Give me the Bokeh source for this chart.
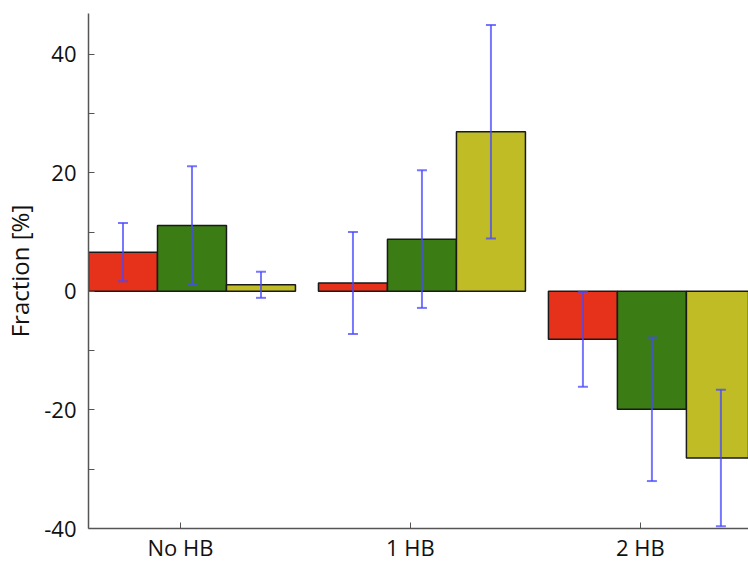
from bokeh.plotting import figure
from bokeh.models import ColumnDataSource, Whisker, TeeHead, FixedTicker, Range1d
from bokeh.embed import file_html
from bokeh.resources import INLINE

categories = ["No HB", "1 HB", "2 HB"]
series_a = [6.6, 1.4, -8.1]
series_a_err = [4.9, 8.6, 8.0]
series_b = [11.1, 8.8, -19.9]
series_b_err = [10.0, 11.6, 12.1]
series_c = [1.1, 26.9, -28.1]
series_c_err = [2.2, 18.0, 11.5]
y_ticks = [-40, -20, 0, 20, 40]
y_minor_ticks = [-30, -10, 10, 30]

colors = ["#e6311b", "#3b7d14", "#c0bc26"]
offsets = [-0.25, 0.05, 0.35]
bar_w = 0.3

p = figure(width=748, height=564, output_backend="svg", toolbar_location=None,
           x_range=Range1d(-0.4, 2.47), y_range=Range1d(-40, 46.85),
           min_border_left=0, min_border_right=0, min_border_top=13, min_border_bottom=0)
p.outline_line_color = None
p.xgrid.visible = False
p.ygrid.visible = False

font = "Open Sans"
for vals, errs, col, off in zip([series_a, series_b, series_c],
                                [series_a_err, series_b_err, series_c_err], colors, offsets):
    xs = [i + off for i in range(len(categories))]
    src = ColumnDataSource(dict(x=xs, top=vals,
                                upper=[v + e for v, e in zip(vals, errs)],
                                lower=[v - e for v, e in zip(vals, errs)]))
    p.vbar(x="x", top="top", bottom=0, width=bar_w, source=src,
           fill_color=col, line_color="#1a1a1a", line_width=1.5)
    w = Whisker(base="x", upper="upper", lower="lower", source=src, level="overlay",
                line_color="#4848ff", line_alpha=0.75, line_width=2,
                upper_head=TeeHead(size=10, line_color="#4848ff", line_alpha=0.75, line_width=2),
                lower_head=TeeHead(size=10, line_color="#4848ff", line_alpha=0.75, line_width=2))
    p.add_layout(w)

p.xaxis.ticker = FixedTicker(ticks=[0, 1, 2])
p.xaxis.major_label_overrides = {i: c for i, c in enumerate(categories)}
p.yaxis.ticker = FixedTicker(ticks=y_ticks, minor_ticks=y_minor_ticks)
p.yaxis.major_label_overrides = {t: str(t) for t in y_ticks}

for ax in (p.xaxis[0], p.yaxis[0]):
    ax.axis_line_color = "#555555"
    ax.axis_line_width = 1.5
    ax.major_tick_line_color = "#555555"
    ax.minor_tick_line_color = "#555555"
    ax.major_tick_in = 6
    ax.major_tick_out = 0
    ax.minor_tick_in = 6
    ax.minor_tick_out = 0
    ax.major_label_text_font = font
    ax.major_label_text_font_size = "22px"
    ax.major_label_text_color = "#111111"
    ax.axis_label_text_font = font
    ax.axis_label_text_font_style = "normal"
    ax.axis_label_text_font_size = "24px"
    ax.axis_label_text_color = "#111111"
p.xaxis.minor_tick_line_color = None
p.yaxis.axis_label = "Fraction [%]"
p.yaxis.major_label_standoff = 12
p.xaxis.major_label_standoff = 3
p.yaxis.axis_label_standoff = 5

open("out.html", "w").write(file_html(p, INLINE))
